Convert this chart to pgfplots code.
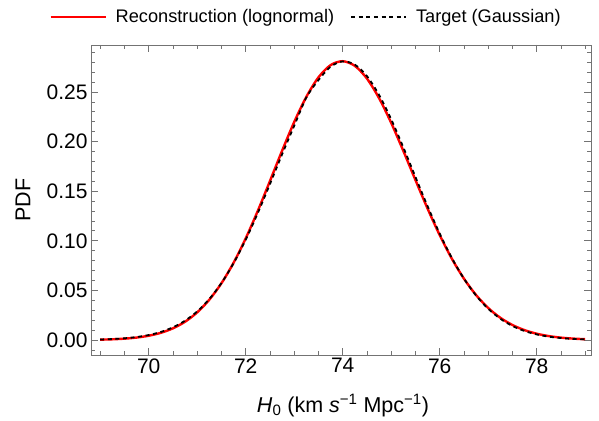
\documentclass[border=0pt]{standalone}
\usepackage{fontspec}
\setmainfont{Liberation Sans}
\usepackage{pgfplots}
\usepackage{pgfplotstable}
\pgfplotsset{compat=1.18}

\definecolor{framegray}{gray}{0.45}

% x, lognormal reconstruction, Gaussian target (74.03 +- 1.42)
\pgfplotstableread{
x      recon     target
69.00  0.000373  0.000530
69.25  0.000728  0.000973
69.50  0.001368  0.001733
69.75  0.002477  0.002991
70.00  0.004321  0.005008
70.25  0.007267  0.008126
70.50  0.011787  0.012785
70.75  0.018445  0.019500
71.00  0.027858  0.028835
71.25  0.040626  0.041336
71.50  0.057220  0.057452
71.75  0.077870  0.077412
72.00  0.102427  0.101113
72.25  0.130270  0.128058
72.50  0.160251  0.157224
72.75  0.190736  0.187143
73.00  0.219731  0.215955
73.25  0.245085  0.244410
73.50  0.264754  0.262038
73.75  0.277096  0.275532
74.00  0.281062  0.280878
74.25  0.276379  0.277589
74.50  0.263555  0.265966
74.75  0.243799  0.247051
75.00  0.218901  0.222476
75.25  0.190664  0.194236
75.50  0.161292  0.164401
75.75  0.132517  0.134903
76.00  0.105772  0.107320
76.25  0.082042  0.082770
76.50  0.061857  0.061888
76.75  0.045349  0.044862
77.00  0.032336  0.031527
77.25  0.022431  0.021480
77.50  0.015141  0.014188
77.75  0.009949  0.009085
78.00  0.006365  0.005641
78.25  0.003965  0.003395
78.50  0.002400  0.001981
78.75  0.001423  0.001121
79.00  0.000820  0.000615
}\pdfdata

\begin{document}
\begin{tikzpicture}
\begin{axis}[
    scale only axis,
    width=500pt, height=310pt,
    xmin=68.81, xmax=79.12,
    ymin=-0.0151, ymax=0.2974,
    xtick={70,72,...,78},
    minor xtick={69,69.5,...,79},
    ytick={0,0.05,...,0.25},
    minor ytick={-0.01,0,...,0.29},
    tick align=inside,
    major tick length=7pt,
    minor tick length=4pt,
    axis line style={framegray, line width=0.9pt},
    every tick/.style={framegray, line width=0.8pt},
    /pgf/number format/assume math mode=true,
    yticklabel style={/pgf/number format/.cd, fixed, fixed zerofill, precision=2},
    xticklabel style={/pgf/number format/.cd, fixed},
    tick label style={font=\fontsize{21}{25}\selectfont, black},
    label style={font=\fontsize{21.5}{26}\selectfont},
    xlabel={\textit{H}\textsubscript{0} (km \textit{s}\textsuperscript{−1} Mpc\textsuperscript{−1})},
    ylabel={PDF},
    xlabel style={at={(axis description cs:0.504,-0.163)}, anchor=center},
    ylabel style={at={(axis description cs:-0.136,0.5)}, anchor=center},
    legend columns=2,
    legend style={
        at={(axis description cs:0.43,1.09)}, anchor=center,
        draw=none, fill=none,
        font=\fontsize{18.2}{22}\selectfont,
        /tikz/every odd column/.append style={column sep=7pt},
        /tikz/every even column/.append style={column sep=14pt},
    },
    legend image code/.code={\draw[#1] (0pt,0pt) -- (55pt,0pt);},
]
\addplot[red, line width=2.4pt, smooth] table[x=x, y=recon] {\pdfdata};
\addlegendentry{Reconstruction (lognormal)}
\addplot[black, line width=1.8pt, smooth, dash pattern=on 4pt off 3.6pt] table[x=x, y=target] {\pdfdata};
\addlegendentry{Target (Gaussian)}
\end{axis}
\path (current axis.south west) ++(-91pt,-65pt) rectangle ++(599pt,420pt);
\end{tikzpicture}
\end{document}
